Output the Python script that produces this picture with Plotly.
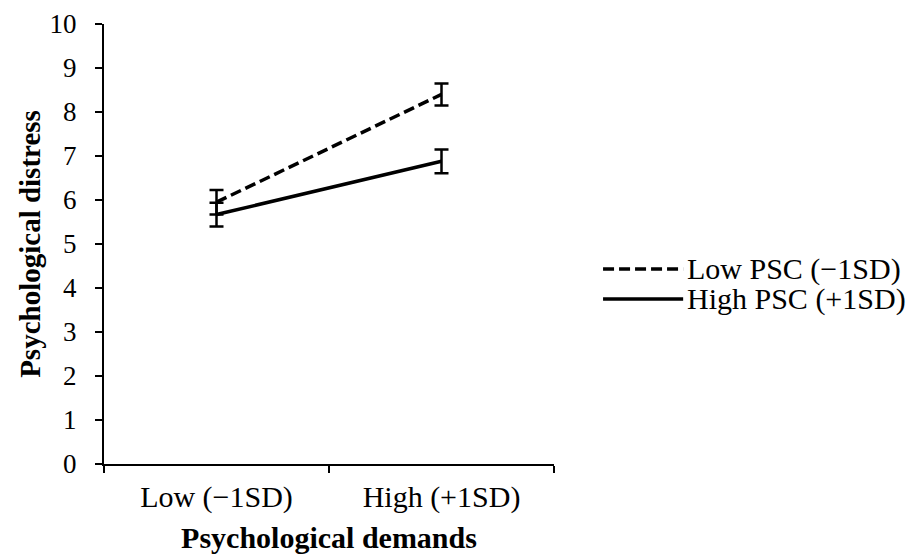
import plotly.graph_objects as go

categories = ["Low (\u22121SD)", "High (+1SD)"]
low_psc = [5.95, 8.40]
low_psc_err = [0.28, 0.25]
high_psc = [5.67, 6.88]
high_psc_err = [0.27, 0.27]
series_names = ["Low PSC (\u22121SD)", "High PSC (+1SD)"]
y_ticks = list(range(0, 11))

FONT = "Liberation Serif"

fig = go.Figure()
fig.add_trace(go.Scatter(
    x=categories, y=low_psc, mode="lines", name=series_names[0],
    line=dict(color="black", width=3.5, dash="11px,5px"),
    error_y=dict(type="data", array=low_psc_err, visible=True,
                 color="black", thickness=2.5, width=7),
    showlegend=False,
))
fig.add_trace(go.Scatter(
    x=categories, y=high_psc, mode="lines", name=series_names[1],
    line=dict(color="black", width=3.5),
    error_y=dict(type="data", array=high_psc_err, visible=True,
                 color="black", thickness=2.5, width=7),
    showlegend=False,
))

# custom legend (long line samples)
legend_y = [0.443, 0.375]
dashes = ["11px,5px", "solid"]
for name, yy, d in zip(series_names, legend_y, dashes):
    fig.add_shape(type="line", xref="paper", yref="paper",
                  x0=1.109, x1=1.287, y0=yy, y1=yy,
                  line=dict(color="black", width=3.5, dash=d))
    fig.add_annotation(xref="paper", yref="paper", x=1.291, y=yy,
                       text=name, showarrow=False, xanchor="left",
                       yanchor="middle",
                       font=dict(family=FONT, size=30, color="black"))

fig.update_layout(
    width=914, height=555,
    margin=dict(l=96, r=368, t=16, b=99),
    paper_bgcolor="white", plot_bgcolor="white",
    font=dict(family=FONT, color="black", size=28),
    xaxis=dict(
        type="category", range=[-0.5, 1.5], tickson="boundaries",
        showline=True, linecolor="black", linewidth=2,
        ticks="outside", ticklen=7, tickwidth=2, tickcolor="black",
        showgrid=False, zeroline=False, automargin=False,
        ticklabelstandoff=5,
        tickfont=dict(family=FONT, size=30),
        title=dict(text="<b>Psychological demands</b>",
                   font=dict(family=FONT, size=30), standoff=14),
    ),
    yaxis=dict(
        range=[0, 10], tickvals=y_ticks,
        showline=True, linecolor="black", linewidth=2,
        ticks="outside", ticklen=7, tickwidth=2, tickcolor="black",
        showgrid=False, zeroline=False, automargin=False,
        ticklabelstandoff=13,
        tickfont=dict(family=FONT, size=27),
        title=dict(text="<b>Psychological distress</b>",
                   font=dict(family=FONT, size=29), standoff=0),
    ),
)

fig.write_html("out.html")
